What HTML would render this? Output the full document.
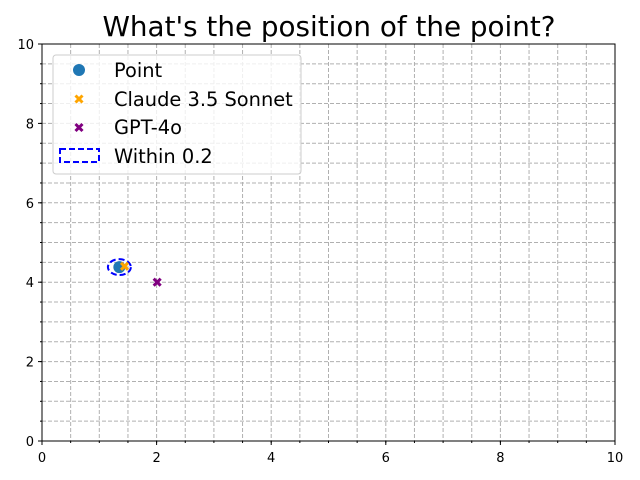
<!DOCTYPE html>
<html><head><meta charset="utf-8"><style>
body{margin:0;background:#fff;}
svg{display:block;font-family:"DejaVu Sans","Liberation Sans",sans-serif;}
</style></head><body>
<svg id="chart" width="640" height="480" xmlns="http://www.w3.org/2000/svg">
<text x="329" y="36" font-size="27.8" text-anchor="middle">What's the position of the point?</text>
<g id="grid"></g>
<g id="marks"></g>
<rect x="42" y="44" width="573" height="397" fill="none" stroke="#000" stroke-width="1"/>
<g id="ticks"></g>
<g>
<rect x="53" y="55" width="248" height="119" rx="3" fill="#fff" fill-opacity="0.8" stroke="#ccc"/>
<circle cx="79" cy="70" r="6" fill="#1f77b4"/>
<text x="114" y="77" font-size="19.4">Point</text>
<g stroke="orange" stroke-width="3"><line x1="75.5" y1="95.5" x2="82.5" y2="102.5"/><line x1="75.5" y1="102.5" x2="82.5" y2="95.5"/></g>
<text x="114" y="106" font-size="19.4">Claude 3.5 Sonnet</text>
<g stroke="purple" stroke-width="3"><line x1="75.5" y1="124" x2="82.5" y2="131"/><line x1="75.5" y1="131" x2="82.5" y2="124"/></g>
<text x="114" y="134" font-size="19.4">GPT-4o</text>
<rect x="60" y="149" width="39" height="13" fill="none" stroke="blue" stroke-width="2" stroke-dasharray="6,3"/>
<text x="114" y="163" font-size="19.4">Within 0.2</text>
</g>
</svg>
<script>
const xTicks=[0,2,4,6,8,10];
const yTicks=[0,2,4,6,8,10];
const pointXY=[1.35,4.38];
const claudeXY=[1.44,4.4];
const gptXY=[2.01,4.0];
const radius=[0.2];
const NS="http://www.w3.org/2000/svg";
const X=v=>42+v*57.3, Y=v=>441-v*39.7;
function mk(t,a,p){const e=document.createElementNS(NS,t);for(const k in a)e.setAttribute(k,a[k]);p.appendChild(e);return e;}
const grid=document.getElementById('grid'),ticks=document.getElementById('ticks'),marks=document.getElementById('marks');
for(let i=1;i<20;i++){const v=i*0.5;
const l=mk('line',{x1:X(v),x2:X(v),y1:44,y2:441,stroke:'#b0b0b0','stroke-dasharray':'4,2'},grid);


const h=mk('line',{x1:42,x2:615,y1:Y(v),y2:Y(v),stroke:'#b0b0b0','stroke-dasharray':'4,2'},grid);


mk('line',{x1:X(v),x2:X(v),y1:441,y2:443,stroke:'#000'},ticks);
mk('line',{x1:40,x2:42,y1:Y(v),y2:Y(v),stroke:'#000'},ticks);}
xTicks.forEach(v=>{mk('line',{x1:X(v),x2:X(v),y1:441,y2:445,stroke:'#000'},ticks);
const t=mk('text',{x:X(v),y:462,'font-size':13,'text-anchor':'middle'},ticks);t.textContent=v;

});
yTicks.forEach(v=>{mk('line',{x1:38,x2:42,y1:Y(v),y2:Y(v),stroke:'#000'},ticks);
const t=mk('text',{x:34,y:Y(v)+5,'font-size':13,'text-anchor':'end'},ticks);t.textContent=v;

});
const c=mk('circle',{cx:X(pointXY[0]),cy:Y(pointXY[1]),r:6,fill:'#1f77b4'},marks);


const e=mk('ellipse',{cx:X(pointXY[0]),cy:Y(pointXY[1]),rx:radius[0]*57.3,ry:radius[0]*39.7,fill:'none',stroke:'blue','stroke-width':2,'stroke-dasharray':'6,3'},marks);


function cross(xy,col,name){const g=mk('g',{stroke:col,'stroke-width':3},marks);const x=X(xy[0]),y=Y(xy[1]),s=3.5;
mk('line',{x1:x-s,y1:y-s,x2:x+s,y2:y+s},g);mk('line',{x1:x-s,y1:y+s,x2:x+s,y2:y-s},g);

}
cross(claudeXY,'orange','claude-guess');
cross(gptXY,'purple','gpt-guess');
</script>
</body></html>
